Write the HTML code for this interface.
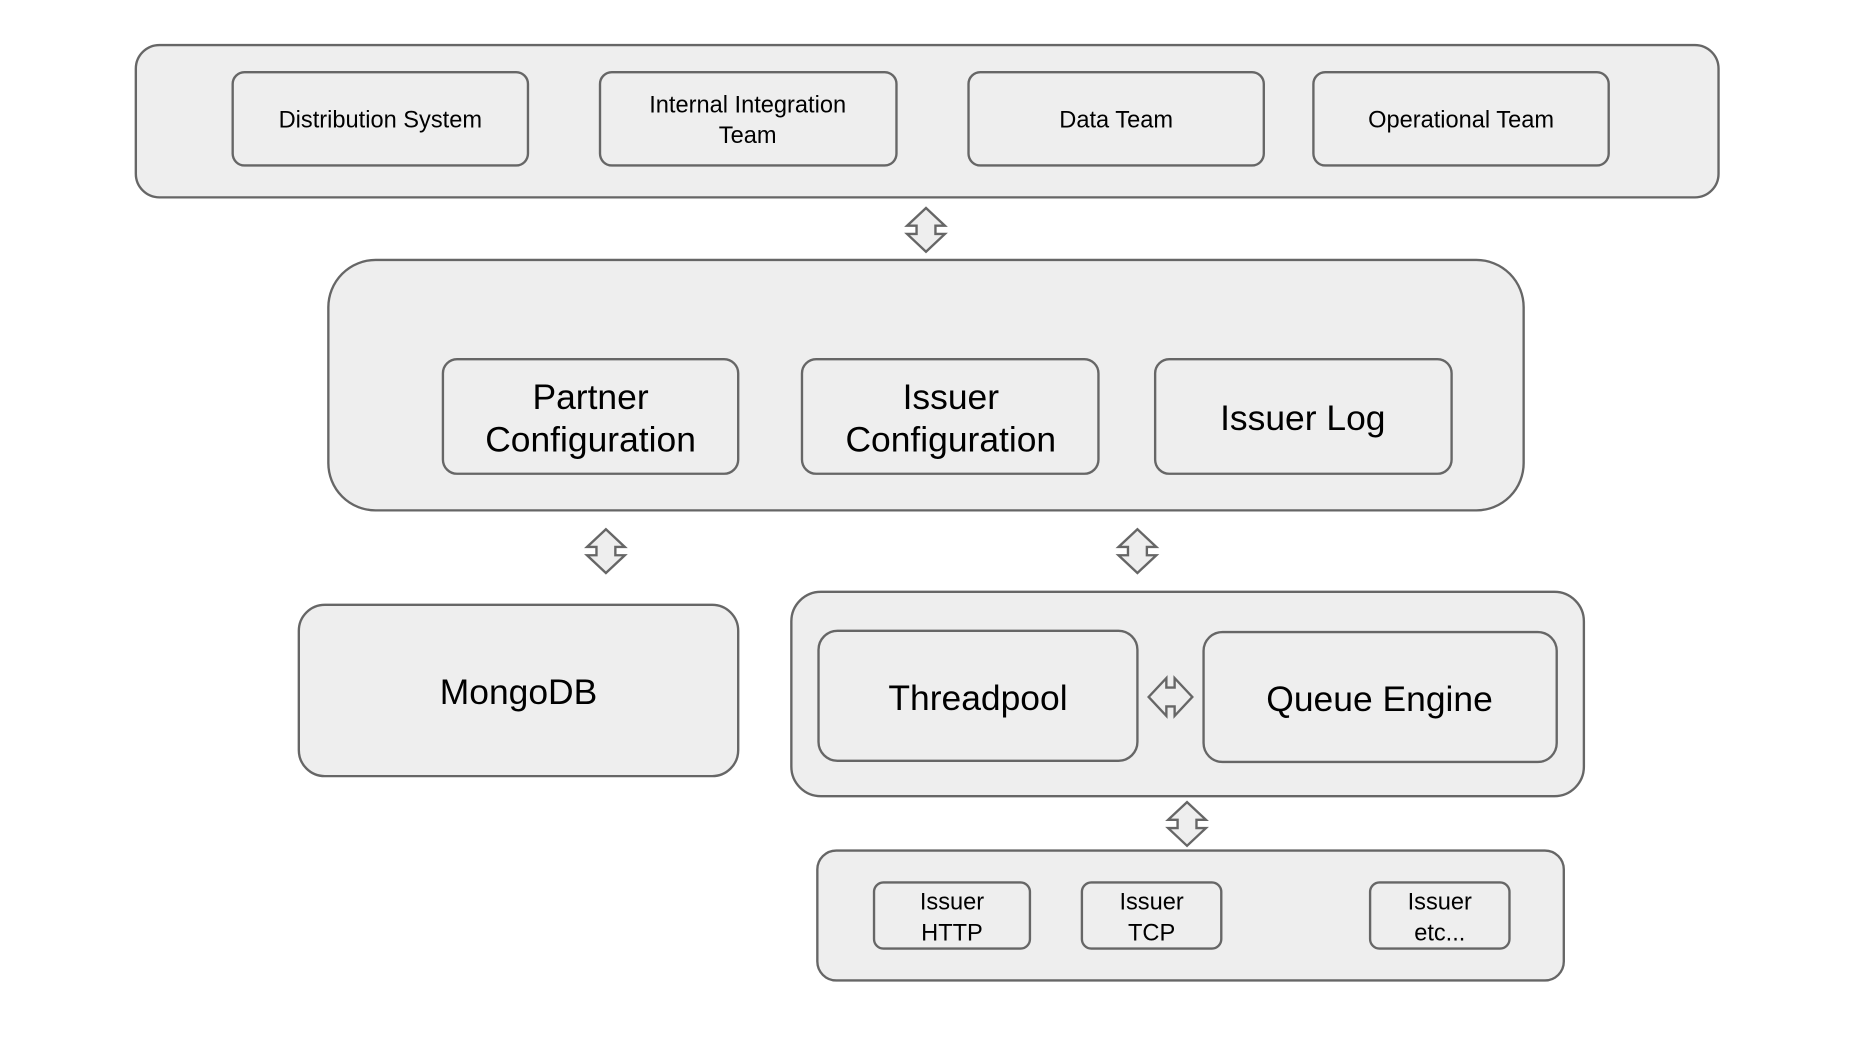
<!DOCTYPE html>
<html><head><meta charset="utf-8"><style>
html,body{margin:0;padding:0;background:#fff;}
svg{display:block}
text{font-family:"Liberation Sans",Arial,sans-serif;fill:#000;text-anchor:middle}
</style></head><body>
<svg width="1852" height="1042" viewBox="0 0 1568 882" xmlns="http://www.w3.org/2000/svg">
<defs>
<path id="va" d="M0,0 L16,15 L8,15 L8,22 L16,22 L0,37 L-16,22 L-8,22 L-8,15 L-16,15 Z" fill="#eeeeee" stroke="#666" stroke-width="2" stroke-linejoin="miter"/>
</defs>
<g fill="#eeeeee" stroke="#666" stroke-width="2">
<rect x="115" y="38" width="1340" height="129" rx="20"/>
<rect x="197" y="61" width="250" height="79" rx="10"/>
<rect x="508" y="61" width="251" height="79" rx="10"/>
<rect x="820" y="61" width="250" height="79" rx="10"/>
<rect x="1112" y="61" width="250" height="79" rx="10"/>
<rect x="278" y="220" width="1012" height="212" rx="40"/>
<rect x="375" y="304" width="250" height="97" rx="12"/>
<rect x="679" y="304" width="251" height="97" rx="12"/>
<rect x="978" y="304" width="251" height="97" rx="12"/>
<rect x="253" y="512" width="372" height="145" rx="22"/>
<rect x="670" y="501" width="671" height="173" rx="25"/>
<rect x="693" y="534" width="270" height="110" rx="16"/>
<rect x="1019" y="535" width="299" height="110" rx="16"/>
<rect x="692" y="720" width="632" height="110" rx="16"/>
<rect x="740" y="747" width="132" height="56" rx="8"/>
<rect x="916" y="747" width="118" height="56" rx="8"/>
<rect x="1160" y="747" width="118" height="56" rx="8"/>
</g>
<use href="#va" x="784" y="176"/>
<use href="#va" x="513" y="448"/>
<use href="#va" x="963" y="448"/>
<use href="#va" x="1005" y="679"/>
<g transform="translate(991,590) rotate(90) translate(0,-18.5)"><use href="#va"/></g>
<g font-size="20">
<text x="322" y="108">Distribution System</text>
<text x="633" y="95">Internal Integration</text>
<text x="633" y="121">Team</text>
<text x="945" y="108">Data Team</text>
<text x="1237" y="108">Operational Team</text>
</g>
<g font-size="30">
<text x="500" y="346">Partner</text>
<text x="500" y="382">Configuration</text>
<text x="805" y="346">Issuer</text>
<text x="805" y="382">Configuration</text>
<text x="1103" y="364">Issuer Log</text>
<text x="439" y="596">MongoDB</text>
<text x="828" y="601">Threadpool</text>
<text x="1168" y="602">Queue Engine</text>
</g>
<g font-size="20">
<text x="806" y="770">Issuer</text>
<text x="806" y="796">HTTP</text>
<text x="975" y="770">Issuer</text>
<text x="975" y="796">TCP</text>
<text x="1219" y="770">Issuer</text>
<text x="1219" y="796">etc...</text>
</g>
</svg>
</body></html>
